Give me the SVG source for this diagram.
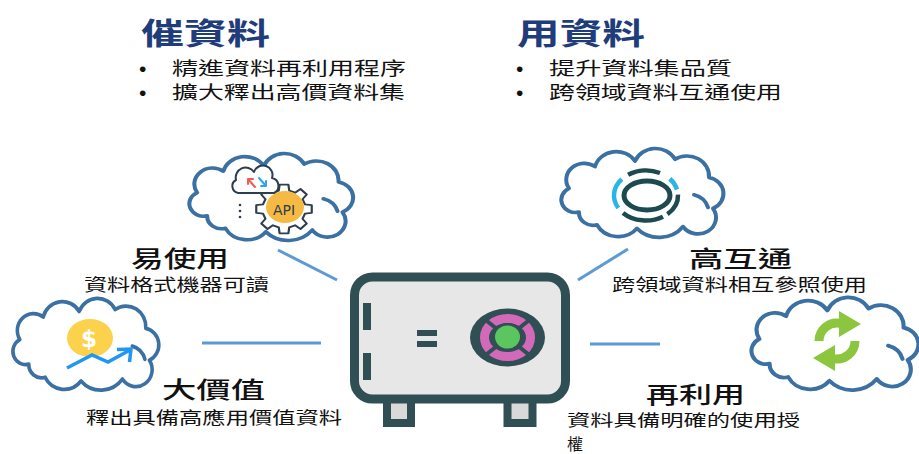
<svg xmlns="http://www.w3.org/2000/svg" width="919" height="454" viewBox="0 0 919 454">
  <defs>
    <style>
      .title { font-family: "Noto Sans CJK TC", "Noto Sans CJK SC", sans-serif; font-weight: 700; font-size: 30px; fill: #1f3c7b; }
      .bullet { font-family: "Noto Sans CJK TC", "Noto Sans CJK SC", sans-serif; font-size: 18px; fill: #111; }
      .dot { font-family: "Liberation Sans", Arial, sans-serif; font-size: 21px; fill: #111; }
      .head { font-family: "Noto Sans CJK TC", "Noto Sans CJK SC", sans-serif; font-weight: 500; font-size: 23px; fill: #111; }
      .sub { font-family: "Noto Sans CJK TC", "Noto Sans CJK SC", sans-serif; font-size: 17px; fill: #111; }
      .sub-s { font-family: "Noto Sans CJK TC", "Noto Sans CJK SC", sans-serif; font-size: 16px; fill: #111; }
      .cloud { fill: #ffffff; stroke: #3b70a3; stroke-width: 4; stroke-linejoin: round; stroke-linecap: round; }
      .cloud-inner { fill: none; stroke: #3b70a3; stroke-width: 4; stroke-linecap: round; }
      .link { stroke: #5b9bd5; stroke-width: 3; fill: none; }
      .dark { fill: #2f4f55; }
    </style>
    <!-- cloud outline in a 170x90 local box -->
    <path id="cloud-shape" d="M22,66 A14,14 0 0 1 12,40 A18,18 0 0 1 38,16 A22,22 0 0 1 78,10 A22,22 0 0 1 118,8 A22,22 0 0 1 152,28 A18,18 0 0 1 156,62 A18,18 0 0 1 126,82 A30,30 0 0 1 80,84 A24,24 0 0 1 40,80 A14,14 0 0 1 22,66 Z"/>
    <path id="cloud-curl" d="M137,47 Q148,50 151,61"/>
  </defs>

  <!-- headings -->
  <g id="promote">
    <text class="title" x="141" y="44" textLength="129" lengthAdjust="spacingAndGlyphs">催資料</text>
    <text class="dot" x="139" y="76">•</text>
    <text class="bullet" x="172" y="75" textLength="234" lengthAdjust="spacingAndGlyphs">精進資料再利用程序</text>
    <text class="dot" x="139" y="100">•</text>
    <text class="bullet" x="172" y="99" textLength="233" lengthAdjust="spacingAndGlyphs">擴大釋出高價資料集</text>
  </g>
  <g id="use">
    <text class="title" x="517" y="44" textLength="128" lengthAdjust="spacingAndGlyphs">用資料</text>
    <text class="dot" x="516" y="76">•</text>
    <text class="bullet" x="549" y="75" textLength="183" lengthAdjust="spacingAndGlyphs">提升資料集品質</text>
    <text class="dot" x="516" y="100">•</text>
    <text class="bullet" x="549" y="99" textLength="233" lengthAdjust="spacingAndGlyphs">跨領域資料互通使用</text>
  </g>

  <!-- connectors -->
  <g id="connectors">
    <line class="link" x1="278" y1="250" x2="337" y2="280"/>
    <line class="link" x1="628" y1="249" x2="578" y2="280"/>
    <line class="link" x1="202" y1="343" x2="321" y2="343"/>
    <line class="link" x1="590" y1="344" x2="660" y2="344"/>
  </g>

  <!-- easy to use -->
  <g id="easy">
    <g transform="translate(185,157) scale(1.01,0.89)">
      <use href="#cloud-shape" class="cloud" vector-effect="non-scaling-stroke"/>
      <use href="#cloud-curl" class="cloud-inner"/>
    </g>
    <polygon transform="translate(284,209) scale(1.08,0.95)" fill="#ffffff" stroke="#2c3e50" stroke-width="2" stroke-linejoin="round"
      points="19.41,-4.84 25.68,-4.07 25.68,4.07 19.41,4.84 17.14,10.30 21.03,15.28 15.28,21.03 10.30,17.14 4.84,19.41 4.07,25.68 -4.07,25.68 -4.84,19.41 -10.30,17.14 -15.28,21.03 -21.03,15.28 -17.14,10.30 -19.41,4.84 -25.68,4.07 -25.68,-4.07 -19.41,-4.84 -17.14,-10.30 -21.03,-15.28 -15.28,-21.03 -10.30,-17.14 -4.84,-19.41 -4.07,-25.68 4.07,-25.68 4.84,-19.41 10.30,-17.14 15.28,-21.03 21.03,-15.28 17.14,-10.30"/>
    <ellipse cx="285" cy="207" rx="19" ry="16" fill="#f6b942"/>
    <text x="284" y="215" text-anchor="middle" font-family="DejaVu Sans, sans-serif" font-size="14" fill="#2c3e50">API</text>
    <path d="M238,193 A7,7 0 0 1 236,180 A10,10 0 0 1 254,172 A9,9 0 0 1 272,178 A8,8 0 0 1 274,193 Z" fill="#ffffff" stroke="#2c3e50" stroke-width="2" stroke-linejoin="round"/>
    <path d="M255,187 L248,179 M248,179 L248,184 M248,179 L253,179" stroke="#f05a5a" stroke-width="2" fill="none" stroke-linecap="round"/>
    <path d="M259,178 L266,186 M266,186 L266,181 M266,186 L261,186" stroke="#2ea3f2" stroke-width="2" fill="none" stroke-linecap="round"/>
    <circle cx="240" cy="205" r="1.3" fill="#2c3e50"/>
    <circle cx="240" cy="211" r="1.3" fill="#2c3e50"/>
    <circle cx="240" cy="217" r="1.3" fill="#2c3e50"/>
    <text class="head" x="131" y="267" textLength="98" lengthAdjust="spacingAndGlyphs">易使用</text>
    <text class="sub" x="84" y="291" textLength="185" lengthAdjust="spacingAndGlyphs">資料格式機器可讀</text>
  </g>

  <!-- interoperable -->
  <g id="interop">
    <g transform="translate(557,152) scale(1.0,0.91)">
      <use href="#cloud-shape" class="cloud" vector-effect="non-scaling-stroke"/>
      <use href="#cloud-curl" class="cloud-inner"/>
    </g>
    <ellipse cx="647" cy="195.5" rx="23" ry="14.5" fill="none" stroke="#1d4a4f" stroke-width="5"/>
    <g fill="none" stroke-width="4.5">
      <path d="M628.1,174.8 A32,25 0 0 1 660.0,173.0" stroke="#1d4a4f"/>
      <path d="M669.8,178.8 A32,25 0 0 1 677.0,189.5" stroke="#29b6e6"/>
      <path d="M678.0,194.6 A32,25 0 0 1 667.4,214.1" stroke="#1d4a4f"/>
      <path d="M663.0,216.7 A32,25 0 0 1 623.0,212.9" stroke="#1d4a4f"/>
      <path d="M618.3,208.0 A32,25 0 0 1 621.8,179.1" stroke="#29b6e6"/>
    </g>
    <text class="head" x="689" y="267" textLength="103" lengthAdjust="spacingAndGlyphs">高互通</text>
    <text class="sub" x="612" y="291" textLength="255" lengthAdjust="spacingAndGlyphs">跨領域資料相互參照使用</text>
  </g>

  <!-- high value -->
  <g id="value">
    <g transform="translate(9,302) scale(0.9,0.94)">
      <use href="#cloud-shape" class="cloud" vector-effect="non-scaling-stroke"/>
      <use href="#cloud-curl" class="cloud-inner"/>
    </g>
    <ellipse cx="90" cy="338" rx="23" ry="19" fill="#fcd24d"/>
    <text x="89" y="347" text-anchor="middle" font-family="DejaVu Sans, sans-serif" font-weight="700" font-size="23" fill="#ffffff">$</text>
    <polyline points="67,368 92,355 108,362 130,350" fill="none" stroke="#2196f3" stroke-width="3.5" stroke-linejoin="miter"/>
    <polyline points="117,349.5 131,349 129.5,362" fill="none" stroke="#2196f3" stroke-width="3.5"/>
    <text class="head" x="162" y="398" textLength="103" lengthAdjust="spacingAndGlyphs">大價值</text>
    <text class="sub" x="86" y="424" textLength="256" lengthAdjust="spacingAndGlyphs">釋出具備高應用價值資料</text>
  </g>

  <!-- reusable -->
  <g id="reuse">
    <g transform="translate(747,301) scale(1.03,0.95)">
      <use href="#cloud-shape" class="cloud" vector-effect="non-scaling-stroke"/>
      <use href="#cloud-curl" class="cloud-inner"/>
    </g>
    <g id="recycle" fill="#8cc63f">
      <path d="M819,341 A18,18 0 0 1 840.1,323.3" fill="none" stroke="#8cc63f" stroke-width="9"/>
      <polygon points="839,311 861,324 839,337"/>
      <g transform="rotate(180 837 341)">
        <path d="M819,341 A18,18 0 0 1 840.1,323.3" fill="none" stroke="#8cc63f" stroke-width="9"/>
        <polygon points="839,311 861,324 839,337"/>
      </g>
    </g>
    <text class="head" x="646" y="403" textLength="99" lengthAdjust="spacingAndGlyphs">再利用</text>
    <text class="sub-s" x="567" y="426" textLength="233" lengthAdjust="spacingAndGlyphs">資料具備明確的使用授</text>
    <text class="sub-s" x="567" y="449.5">權</text>
  </g>

  <!-- central data safe -->
  <g id="safe">
    <rect x="387" y="398" width="24" height="25" fill="#d9d9d9" stroke="#2f4f55" stroke-width="8"/>
    <rect x="507.5" y="398" width="25" height="25" fill="#d9d9d9" stroke="#2f4f55" stroke-width="8"/>
    <rect x="354.5" y="277" width="211" height="122" rx="18" fill="#e7e7e7" stroke="#2f4f55" stroke-width="9"/>
    <rect class="dark" x="363" y="303" width="8" height="27"/>
    <rect class="dark" x="363" y="353" width="8" height="27"/>
    <rect class="dark" x="417" y="330" width="20" height="6"/>
    <rect class="dark" x="417" y="341" width="20" height="6"/>
    <ellipse class="dark" cx="507.5" cy="337.5" rx="37.5" ry="29"/>
    <ellipse cx="507.5" cy="337.5" rx="23" ry="19" fill="none" stroke="#d36ab9" stroke-width="9"/>
    <line x1="482" y1="317" x2="533" y2="358" stroke="#2f4f55" stroke-width="4"/>
    <line x1="533" y1="317" x2="482" y2="358" stroke="#2f4f55" stroke-width="4"/>
    <ellipse cx="507.5" cy="337" rx="15" ry="14" fill="#2f4f55"/>
    <ellipse cx="507.5" cy="337" rx="12.5" ry="11.5" fill="#5bc560"/>
  </g>
</svg>
